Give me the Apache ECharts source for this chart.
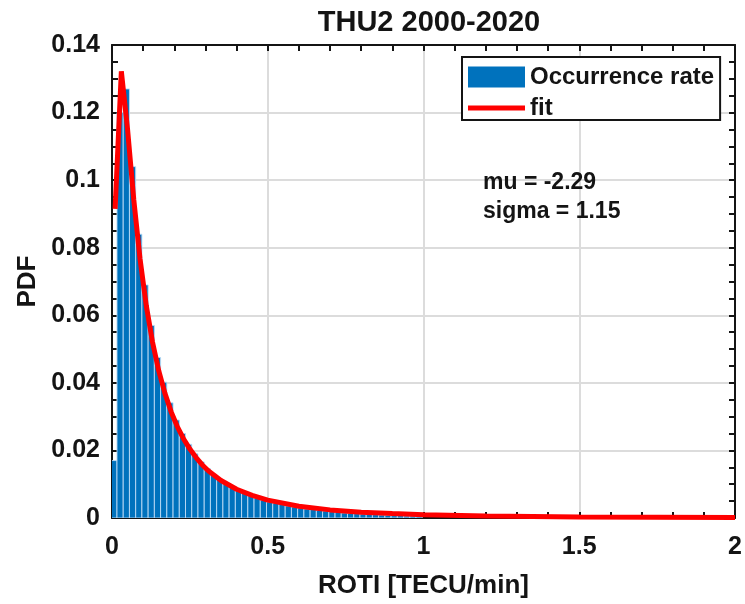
<!DOCTYPE html>
<html>
<head>
<meta charset="utf-8">
<title>THU2 2000-2020</title>
<script src="https://cdn.jsdelivr.net/npm/echarts@6/dist/echarts.min.js"></script>
<style>
  html, body { margin: 0; padding: 0; background: #fff; }
  #chart { width: 745px; height: 604px; }
</style>
</head>
<body>
<div id="chart"></div>
<script>
// ROTI occurrence-rate histogram: first bin left edge, bin width, and bar heights
const firstBinEdge = -0.004;
const binWidth = 0.02;
const occurrenceRate = [
  0.0170, 0.1200, 0.1270, 0.1040, 0.0840, 0.0690, 0.0570, 0.0475, 0.0402, 0.0341,
  0.0290, 0.0250, 0.0218, 0.0190, 0.0166, 0.0146, 0.0129, 0.0114, 0.0101, 0.0090,
  0.0081, 0.0073, 0.0066, 0.0059, 0.0053, 0.0048, 0.0044, 0.0040, 0.0036, 0.0033,
  0.0030, 0.0027, 0.0025, 0.0023, 0.0021, 0.0019, 0.0017, 0.0015, 0.0014, 0.0013,
  0.0012, 0.0011, 0.0010, 0.0009, 0.0008, 0.0007, 0.0007, 0.0006, 0.0006, 0.0005
];

// Lognormal fit (mu = -2.29, sigma = 1.15), sampled points
const fitX = [
  0.01, 0.03, 0.05, 0.07, 0.09, 0.11, 0.13, 0.15, 0.17, 0.19,
  0.21, 0.23, 0.25, 0.27, 0.29, 0.31, 0.35, 0.40, 0.45, 0.50,
  0.60, 0.70, 0.80, 0.90, 1.00, 1.20, 1.50, 2.00
];
const fitY = [
  0.0915, 0.1322, 0.1150, 0.0941, 0.0767, 0.0629, 0.0521, 0.0436, 0.0369, 0.0314,
  0.0270, 0.0234, 0.0204, 0.0179, 0.0157, 0.0139, 0.0111, 0.0085, 0.0067, 0.0053,
  0.0035, 0.0024, 0.0017, 0.0013, 0.00096, 0.00057, 0.00030, 0.00012
];

const xTicks = { min: 0, max: 2, step: 0.5 };
const yTicks = { min: 0, max: 0.14, step: 0.02 };

const barData = occurrenceRate.map((h, i) => {
  const x0 = firstBinEdge + i * binWidth;
  return [x0, x0 + binWidth, h];
});
const fitData = fitX.map((x, i) => [x, fitY[i]]);

const FONT = '"Liberation Sans", Arial, Helvetica, sans-serif';
const INK = '#141414';

const chart = echarts.init(document.getElementById('chart'), null, { renderer: 'canvas' });

const baseAxis = {
  type: 'value',
  axisLine: { show: true, onZero: false, lineStyle: { color: INK, width: 2 } },
  axisTick: { show: true, inside: true, length: 6, lineStyle: { color: INK, width: 2 } },
  minorTick: { show: true, length: 6, lineStyle: { color: INK, width: 2 } },
  splitLine: { show: false },
  minorSplitLine: { show: false }
};

chart.setOption({
  animation: false,
  backgroundColor: '#ffffff',
  title: {
    text: 'THU2 2000-2020',
    left: 424,
    top: 3,
    textAlign: 'center',
    textStyle: { fontFamily: FONT, fontSize: 29, fontWeight: 'bold', color: INK }
  },
  grid: { left: 112, right: 10, top: 45, bottom: 85, containLabel: false },
  legend: {
    orient: 'vertical',
    left: 462,
    top: 57,
    padding: [8, 6, 0, 6],
    itemGap: 7,
    itemWidth: 57,
    itemHeight: 21,
    symbolKeepAspect: true,
    borderColor: INK,
    borderWidth: 2,
    borderRadius: 0,
    backgroundColor: '#ffffff',
    textStyle: { fontFamily: FONT, fontSize: 24, fontWeight: 'bold', color: INK, lineHeight: 21 },
    data: [
      { name: 'Occurrence rate', icon: 'rect' },
      { name: 'fit', icon: 'path://M0,0L57,0L57,5L0,5Z', itemStyle: { color: '#ff0000' } }
    ]
  },
  xAxis: [
    Object.assign({}, baseAxis, {
      min: xTicks.min, max: xTicks.max, interval: xTicks.step,
      position: 'bottom',
      minorTick: Object.assign({}, baseAxis.minorTick, { splitNumber: 5 }),
      splitLine: { show: true, lineStyle: { color: '#dcdcdc', width: 2 } },
      axisLabel: { fontFamily: FONT, fontSize: 25, fontWeight: 'bold', color: INK, margin: 17 },
      name: 'ROTI [TECU/min]',
      nameLocation: 'middle',
      nameGap: 55,
      nameTextStyle: { fontFamily: FONT, fontSize: 26, fontWeight: 'bold', color: INK }
    }),
    Object.assign({}, baseAxis, {
      min: xTicks.min, max: xTicks.max, interval: xTicks.step,
      position: 'top',
      minorTick: Object.assign({}, baseAxis.minorTick, { splitNumber: 5 }),
      axisLabel: { show: false }
    })
  ],
  yAxis: [
    Object.assign({}, baseAxis, {
      min: yTicks.min, max: yTicks.max, interval: yTicks.step,
      position: 'left',
      minorTick: Object.assign({}, baseAxis.minorTick, { splitNumber: 4 }),
      splitLine: { show: true, lineStyle: { color: '#dcdcdc', width: 2 } },
      axisLabel: {
        fontFamily: FONT, fontSize: 25, fontWeight: 'bold', color: INK, margin: 12,
        formatter: v => String(parseFloat(v.toFixed(2)))
      },
      name: 'PDF',
      nameLocation: 'middle',
      nameGap: 66,
      nameTextStyle: { fontFamily: FONT, fontSize: 26, fontWeight: 'bold', color: INK }
    }),
    Object.assign({}, baseAxis, {
      min: yTicks.min, max: yTicks.max, interval: yTicks.step,
      position: 'right',
      minorTick: Object.assign({}, baseAxis.minorTick, { splitNumber: 4 }),
      axisLabel: { show: false }
    })
  ],
  graphic: [
    {
      type: 'text', left: 483, top: 171, z: 10,
      style: { text: 'mu = -2.29', font: 'bold 23px ' + FONT, fill: INK }
    },
    {
      type: 'text', left: 483, top: 200, z: 10,
      style: { text: 'sigma = 1.15', font: 'bold 23px ' + FONT, fill: INK }
    }
  ],
  series: [
    {
      name: 'Occurrence rate',
      type: 'custom',
      xAxisIndex: 0,
      yAxisIndex: 0,
      itemStyle: { color: '#0072BD' },
      encode: { x: [0, 1], y: 2 },
      clip: true,
      renderItem: function (params, api) {
        const p0 = api.coord([api.value(0), 0]);
        const p1 = api.coord([api.value(1), api.value(2)]);
        return {
          type: 'rect',
          shape: { x: p0[0], y: p1[1], width: p1[0] - p0[0], height: p0[1] - p1[1] },
          style: { fill: '#0072BD', stroke: 'rgba(190,220,245,0.9)', lineWidth: 1 }
        };
      },
      data: barData
    },
    {
      name: 'fit',
      type: 'line',
      xAxisIndex: 0,
      yAxisIndex: 0,
      symbol: 'none',
      smooth: false,
      z: 5,
      lineStyle: { color: '#ff0000', width: 5 },
      itemStyle: { color: '#ff0000' },
      data: fitData
    }
  ]
});
</script>
</body>
</html>
